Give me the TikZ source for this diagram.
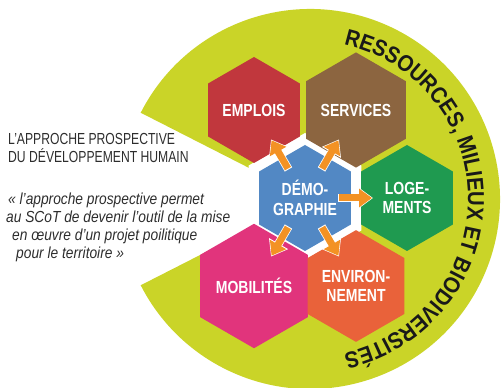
\documentclass[tikz,border=0pt]{standalone}
\usepackage{fontspec}
\setmainfont{Liberation Sans}
\newfontfamily\hexfont[FakeStretch=0.8]{Liberation Sans}
\newfontfamily\titlefont[FakeStretch=0.76]{Liberation Sans}
\newfontfamily\quotefont[FakeStretch=0.86]{Liberation Sans}
\newfontfamily\arcfont[FakeStretch=0.88]{Liberation Sans}
\usetikzlibrary{shapes.geometric,decorations.text,arrows.meta}
\definecolor{cLime}{RGB}{202,212,40}
\definecolor{cEmp}{RGB}{193,55,61}
\definecolor{cSer}{RGB}{140,101,64}
\definecolor{cDem}{RGB}{82,136,196}
\definecolor{cLog}{RGB}{31,154,80}
\definecolor{cMob}{RGB}{225,52,124}
\definecolor{cEnv}{RGB}{233,98,58}
\definecolor{cArw}{RGB}{243,146,36}
\definecolor{cText}{RGB}{45,45,45}
\definecolor{cArc}{RGB}{25,25,25}
\begin{document}
\begin{tikzpicture}[x=1pt,y=1pt,
  hexa/.style={regular polygon, regular polygon sides=6, shape border rotate=30,
    minimum size=106pt, inner sep=0pt, outer sep=0pt, text=white, align=center,
    font=\hexfont\bfseries\fontsize{17.5}{19.5}\selectfont},
  hexback/.style={regular polygon, regular polygon sides=6, shape border rotate=30,
    minimum size=130pt, inner sep=0pt, outer sep=0pt, fill=white},
  arw/.style={line width=7pt, draw=cArw, -{Triangle[length=13pt,width=18pt]},
    shorten <=34pt, shorten >=35pt,
    preaction={draw=white, line width=8.5pt, -{Triangle[length=15pt,width=21pt]},
      shorten <=33pt, shorten >=34pt}},
  ttl/.style={anchor=base west, inner sep=0pt, text=cText,
    font=\titlefont\fontsize{16}{18}\selectfont},
  quo/.style={anchor=base west, inner sep=0pt, text=cText,
    font=\quotefont\itshape\fontsize{16}{18}\selectfont}
]
\useasboundingbox (0,0) rectangle (501,388);
\coordinate (c) at (310,189);
\fill[cLime] (c) -- ++(153:190) arc[start angle=153, end angle=-153, radius=190] -- cycle;

\path[decorate, decoration={text along path,
  text={|\color{cArc}\arcfont\bfseries\fontsize{23}{23}\selectfont|RESSOURCES, MILIEUX ET BIODIVERSITÉS},
  text align=center}]
  ([shift={(82:158)}]c) arc[start angle=82, end angle=-82, radius=158];

\node[hexback] (demoback) at (305,190) {};
\node[hexa, fill=cEmp] (emplois) at (254,278) {EMPLOIS};
\node[hexa, fill=cSer] (services) at (356,278) {SERVICES};
\node[hexa, fill=cDem] (demo) at (305,190) {DÉMO-\\GRAPHIE};
\node[hexa, fill=cLog] (loge) at (407,190) {LOGE-\\MENTS};
\node[hexa, fill=cMob] (mobil) at (254,102) {MOBILITÉS};
\node[hexa, fill=cEnv] (envir) at (356,102) {ENVIRON-\\NEMENT};

\draw[arw] (demo.center) -- (emplois.center);
\draw[arw] (demo.center) -- (services.center);
\draw[arw] (demo.center) -- (loge.center);
\draw[arw] (demo.center) -- (mobil.center);
\draw[arw] (demo.center) -- (envir.center);

\node[ttl] (t1) at (8,243) {L’APPROCHE PROSPECTIVE};
\node[ttl] (t2) at (8,225) {DU DÉVELOPPEMENT HUMAIN};
\node[quo] (q1) at (8,183) {« l’approche prospective permet};
\node[quo] (q2) at (6,165) {au SCoT de devenir l’outil de la mise};
\node[quo] (q3) at (12,147) {en œuvre d’un projet poilitique};
\node[quo] (q4) at (16,129) {pour le territoire »};
\end{tikzpicture}
\end{document}
